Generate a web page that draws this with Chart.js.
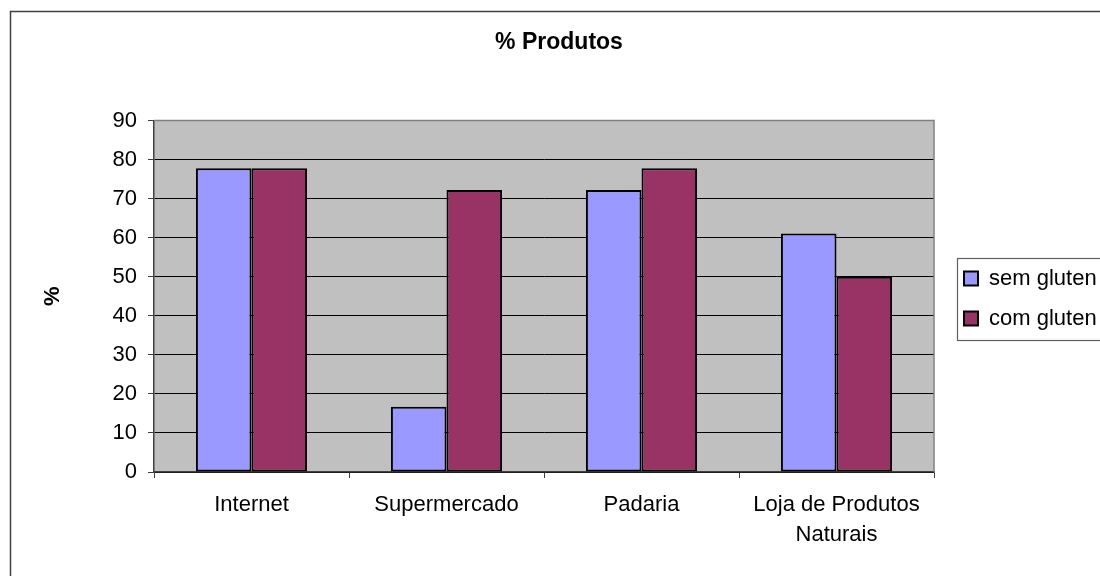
<!DOCTYPE html>
<html>
<head>
<meta charset="utf-8">
<script src="https://cdn.jsdelivr.net/npm/chart.js@4/dist/chart.umd.min.js"></script>
<style>
  html, body { margin: 0; padding: 0; background: #fff; }
  #wrap { width: 1100px; height: 576px; position: relative; }
</style>
</head>
<body>
<div id="wrap"><canvas id="c"></canvas></div>
<script>
const categories = ['Internet', 'Supermercado', 'Padaria', ['Loja de Produtos', 'Naturais']];
const semGluten = [77.8, 16.7, 72.2, 61.1];
const comGluten = [77.8, 72.2, 77.8, 50.0];
const seriesNames = ['sem gluten', 'com gluten'];
const yTicks = [0, 10, 20, 30, 40, 50, 60, 70, 80, 90];
const chartTitle = '% Produtos';
const yTitle = '%';

const FONT = "'Liberation Sans', Arial, sans-serif";

const decor = {
  id: 'decor',
  afterLayout(chart) {
    const lg = chart.legend;
    if (lg) { lg.top += 17; lg.bottom += 17; }
  },
  beforeDraw(chart) {
    const ctx = chart.ctx, a = chart.chartArea;
    ctx.save();
    ctx.fillStyle = '#fff';
    ctx.fillRect(0, 0, chart.width, chart.height);
    ctx.strokeStyle = '#404040';
    ctx.lineWidth = 1.5;
    ctx.strokeRect(10.5, 11.5, 1200, 700);
    ctx.fillStyle = '#C0C0C0';
    ctx.fillRect(a.left, a.top, a.right - a.left, a.bottom - a.top);
    ctx.restore();
  },
  beforeDatasetsDraw(chart) {
    const ctx = chart.ctx, a = chart.chartArea;
    ctx.save();
    ctx.strokeStyle = '#808080';
    ctx.lineWidth = 1.5;
    ctx.beginPath();
    ctx.moveTo(a.left, a.top);
    ctx.lineTo(a.right, a.top);
    ctx.lineTo(a.right, a.bottom);
    ctx.stroke();
    ctx.restore();
  },
  afterDraw(chart) {
    const lg = chart.legend;
    if (!lg || !lg.legendHitBoxes || !lg.legendHitBoxes.length) return;
    const hb = lg.legendHitBoxes;
    const top = hb[0].top - 10;
    const bottom = hb[hb.length - 1].top + hb[hb.length - 1].height + 10;
    const ctx = chart.ctx;
    ctx.save();
    ctx.strokeStyle = '#606060';
    ctx.lineWidth = 1.2;
    ctx.strokeRect(lg.left + 11.5, Math.round(top) + 0.5, 300, Math.round(bottom - top));
    ctx.restore();
  }
};

new Chart(document.getElementById('c'), {
  type: 'bar',
  data: {
    labels: categories,
    datasets: [
      { label: seriesNames[0], data: semGluten, backgroundColor: '#9999FF', borderColor: '#000', borderWidth: 2, borderSkipped: false, yAxisID: 'y' },
      { label: seriesNames[1], data: comGluten, backgroundColor: '#993366', borderColor: '#000', borderWidth: 2, borderSkipped: false, yAxisID: 'y' }
    ]
  },
  options: {
    responsive: true,
    maintainAspectRatio: false,
    animation: false,
    layout: { padding: { left: 18, top: 11, right: 0, bottom: 24 } },
    datasets: { bar: { categoryPercentage: 0.57, barPercentage: 1.0 } },
    scales: {
      x: {
        offset: true,
        grid: { display: true, drawOnChartArea: false, drawTicks: true, tickLength: 6, tickColor: '#404040', offset: true },
        border: { display: true, color: '#404040', width: 1.5 },
        ticks: { color: '#000', padding: 12, font: { family: FONT, size: 22, lineHeight: 30 / 22 }, maxRotation: 0, autoSkip: false },
        afterFit(s) { s.height = 80; }
      },
      y: {
        position: 'left',
        min: 0, max: 90,
        afterBuildTicks(s) { s.ticks = yTicks.map(v => ({ value: v })); },
        grid: { color: '#000', lineWidth: 1, drawTicks: true, tickLength: 6, tickColor: '#404040' },
        border: { display: true, color: '#404040', width: 1.5 },
        ticks: { color: '#000', padding: 11, font: { family: FONT, size: 22 } },
        title: { display: true, text: yTitle, color: '#000', font: { family: FONT, size: 22, weight: 'bold' }, padding: { top: 22, bottom: 0 } },
        afterFit(s) { s.width = 136; }
      },
      yR: {
        type: 'linear',
        position: 'right',
        display: true,
        grid: { display: false },
        ticks: { display: false },
        border: { display: false },
        afterFit(s) { s.width = 12; }
      }
    },
    plugins: {
      title: {
        display: true,
        text: chartTitle,
        color: '#000',
        font: { family: FONT, size: 23, weight: 'bold' },
        padding: { top: 18, bottom: 64 }
      },
      legend: {
        display: true,
        position: 'right',
        align: 'center',
        maxWidth: 154,
        labels: {
          color: '#000',
          font: { family: FONT, size: 22 },
          boxWidth: 14,
          boxHeight: 14,
          padding: 18
        }
      },
      tooltip: { enabled: false }
    }
  },
  plugins: [decor]
});
</script>
</body>
</html>
